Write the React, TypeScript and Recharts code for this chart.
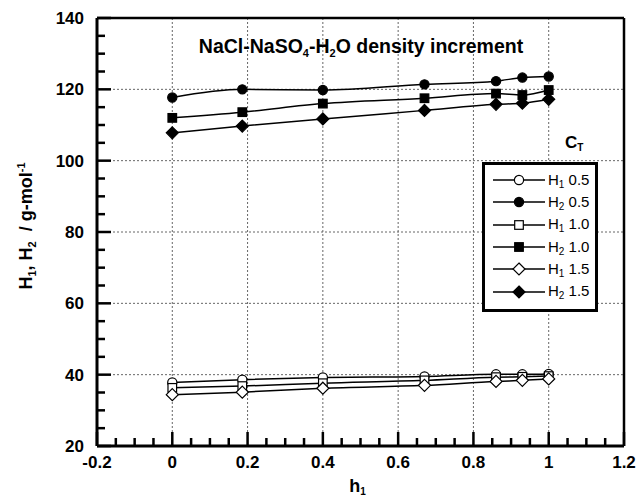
import React from 'react';
import { ComposedChart, Line, XAxis, YAxis, CartesianGrid } from 'recharts';

// h1 values (mole fraction) shared by all series
const hValues = [0, 0.186, 0.4, 0.67, 0.86, 0.93, 1.0];

// partial molar density increments, g/mol
const h1c05 = [37.8, 38.6, 39.2, 39.5, 40.1, 40.1, 40.2];
const h2c05 = [117.7, 120.0, 119.8, 121.4, 122.3, 123.3, 123.6];
const h1c10 = [36.3, 36.8, 37.6, 38.4, 39.3, 39.4, 39.6];
const h2c10 = [112.0, 113.6, 116.0, 117.5, 118.8, 118.4, 119.8];
const h1c15 = [34.4, 35.1, 36.2, 37.0, 38.1, 38.4, 38.8];
const h2c15 = [107.8, 109.7, 111.7, 114.1, 115.8, 116.1, 117.2];

const xMajor = [-0.2, 0, 0.2, 0.4, 0.6, 0.8, 1, 1.2];
const yMajor = [20, 40, 60, 80, 100, 120, 140];
const xDomain = [-0.2, 1.2];
const yDomain = [20, 140];

const W = 638;
const H = 498;
const FONT = '"Liberation Sans", Arial, sans-serif';

// minor ticks every quarter of a major step
const withMinor = (major: number[]) => {
  const out: number[] = [];
  for (let i = 0; i < major.length - 1; i++) {
    const step = (major[i + 1] - major[i]) / 4;
    for (let k = 0; k < 4; k++) out.push(+(major[i] + k * step).toFixed(4));
  }
  out.push(major[major.length - 1]);
  return out;
};
const xTicks = withMinor(xMajor);
const yTicks = withMinor(yMajor);

const isMajor = (v: number, list: number[]) => list.some((m) => Math.abs(m - v) < 1e-6);

type Shape = 'circle' | 'square' | 'diamond';

const series = [
  { key: 'h1c05', sub: '1', ct: '0.5', values: h1c05, shape: 'circle' as Shape, filled: false },
  { key: 'h2c05', sub: '2', ct: '0.5', values: h2c05, shape: 'circle' as Shape, filled: true },
  { key: 'h1c10', sub: '1', ct: '1.0', values: h1c10, shape: 'square' as Shape, filled: false },
  { key: 'h2c10', sub: '2', ct: '1.0', values: h2c10, shape: 'square' as Shape, filled: true },
  { key: 'h1c15', sub: '1', ct: '1.5', values: h1c15, shape: 'diamond' as Shape, filled: false },
  { key: 'h2c15', sub: '2', ct: '1.5', values: h2c15, shape: 'diamond' as Shape, filled: true },
];

const Marker = ({ cx, cy, shape, filled }: { cx: number; cy: number; shape: Shape; filled: boolean }) => {
  const fill = filled ? '#000' : '#fff';
  const common = { fill, stroke: '#000', strokeWidth: 1.2 };
  if (shape === 'square') return <rect x={cx - 4.3} y={cy - 4.3} width={8.6} height={8.6} {...common} />;
  if (shape === 'diamond')
    return <polygon points={`${cx},${cy - 6} ${cx + 6},${cy} ${cx},${cy + 6} ${cx - 6},${cy}`} {...common} />;
  return <circle cx={cx} cy={cy} r={4.6} {...common} />;
};

const tickText = { fontFamily: FONT, fontSize: 17, fontWeight: 700, fill: '#000' };
const tickLen = (major: boolean) => (major ? 14 : 8);

const BottomTick = (p: any) => {
  const v = p.payload.value;
  const major = isMajor(v, xMajor);
  return (
    <g>
      <line x1={p.x} x2={p.x} y1={p.y} y2={p.y - tickLen(major)} stroke="#000" strokeWidth={2.5} />
      {major && (
        <text x={p.x} y={p.y + 22} textAnchor="middle" style={tickText}>
          {String(+v.toFixed(2))}
        </text>
      )}
    </g>
  );
};

const LeftTick = (p: any) => {
  const v = p.payload.value;
  const major = isMajor(v, yMajor);
  return (
    <g>
      <line x1={p.x} x2={p.x + tickLen(major)} y1={p.y} y2={p.y} stroke="#000" strokeWidth={2.5} />
      {major && (
        <text x={p.x - 13} y={p.y + 6} textAnchor="end" style={tickText}>
          {v}
        </text>
      )}
    </g>
  );
};

const YTitle = (p: any) => {
  const vb = p.viewBox;
  const x = vb.x + 32;
  const y = vb.y + vb.height / 2 - 6;
  return (
    <text
      x={x}
      y={y}
      transform={`rotate(-90, ${x}, ${y})`}
      textAnchor="middle"
      style={{ fontFamily: FONT, fontSize: 18, fontWeight: 700, fill: '#000' }}
    >
      H<tspan fontSize={11} dy={4}>1</tspan>
      <tspan dy={-4}>, H</tspan>
      <tspan fontSize={11} dy={4}>2</tspan>
      <tspan dy={-4} xmlSpace="preserve">{'  / g-mol'}</tspan>
      <tspan fontSize={11} dy={-7}>-1</tspan>
    </text>
  );
};

const XTitle = (p: any) => {
  const vb = p.viewBox;
  const x = vb.x + vb.width / 2 - 3;
  return (
    <text x={x} y={492} textAnchor="middle" style={{ fontFamily: FONT, fontSize: 18, fontWeight: 700, fill: '#000' }}>
      h<tspan fontSize={10} dy={3}>1</tspan>
    </text>
  );
};

const LegendBox = () => (
  <div
    style={{
      position: 'absolute',
      left: 482,
      top: 162,
      border: '3px solid #000',
      background: '#fff',
      width: 110,
      height: 140,
      paddingTop: 4,
      boxSizing: 'content-box',
      fontFamily: FONT,
      fontSize: 15,
      color: '#000',
    }}
  >
    {series.map((s) => (
      <div key={s.key} style={{ display: 'flex', alignItems: 'center', height: 22.3 }}>
        <svg width={52} height={16} style={{ marginLeft: 8 }}>
          <line x1={0} x2={52} y1={8} y2={8} stroke="#000" strokeWidth={1.3} />
          <Marker cx={26} cy={8} shape={s.shape} filled={s.filled} />
        </svg>
        <span style={{ marginLeft: 3, whiteSpace: 'nowrap' }}>
          H<sub style={{ fontSize: 10, verticalAlign: -3 }}>{s.sub}</sub> {s.ct}
        </span>
      </div>
    ))}
  </div>
);

const App = () => {
  return (
    <div style={{ position: 'absolute', left: 0, top: 0, width: W, height: H, background: '#fff', overflow: 'hidden' }}>
      <ComposedChart width={W} height={H} margin={{ top: 0, right: 0, left: 0, bottom: 0 }}>
        <CartesianGrid
          verticalValues={xMajor.slice(1, -1)}
          horizontalValues={yMajor.slice(1, -1)}
          stroke="#666"
          strokeDasharray="2 2"
          strokeWidth={1}
        />
        <XAxis
          type="number"
          dataKey="x"
          domain={xDomain}
          ticks={xTicks}
          interval={0}
          height={52}
          tickSize={0}
          tickMargin={0}
          tick={BottomTick}
          axisLine={{ stroke: '#000', strokeWidth: 3 }}
          label={<XTitle />}
        />
        {/* top frame: plain axis, ticks turned inward with a negative size */}
        <XAxis
          xAxisId="top"
          orientation="top"
          type="number"
          dataKey="x"
          domain={xDomain}
          ticks={xTicks}
          interval={0}
          height={18}
          tick={false}
          tickSize={-10}
          stroke="#000"
          strokeWidth={2.5}
        />
        <YAxis
          type="number"
          dataKey="y"
          domain={yDomain}
          ticks={yTicks}
          interval={0}
          width={97}
          tickSize={0}
          tickMargin={0}
          tick={LeftTick}
          axisLine={{ stroke: '#000', strokeWidth: 3 }}
          label={<YTitle />}
        />
        <YAxis
          yAxisId="right"
          orientation="right"
          type="number"
          dataKey="y"
          domain={yDomain}
          ticks={yTicks}
          interval={0}
          width={14}
          tick={false}
          tickSize={-10}
          stroke="#000"
          strokeWidth={2.5}
        />
        {series.map((s, i) => (
          <Line
            key={s.key}
            // the last series sits on the top/right axes, which share the same domains
            xAxisId={i === series.length - 1 ? 'top' : 0}
            yAxisId={i === series.length - 1 ? 'right' : 0}
            data={hValues.map((x, j) => ({ x, y: s.values[j] }))}
            dataKey="y"
            type="monotone"
            stroke="#000"
            strokeWidth={1.5}
            isAnimationActive={false}
            dot={(d: any) => (
              <Marker key={`${s.key}-${d.index}`} cx={d.cx} cy={d.cy} shape={s.shape} filled={s.filled} />
            )}
            activeDot={false}
          />
        ))}
      </ComposedChart>
      <LegendBox />
      <div
        style={{
          position: 'absolute',
          left: 97,
          width: 528,
          top: 36,
          textAlign: 'center',
          fontFamily: FONT,
          fontSize: 19.5,
          fontWeight: 700,
          lineHeight: '20px',
          whiteSpace: 'nowrap',
        }}
      >
        NaCl-NaSO<sub style={{ fontSize: 11, verticalAlign: -4 }}>4</sub>-H
        <sub style={{ fontSize: 11, verticalAlign: -4 }}>2</sub>O density increment
      </div>
      <div
        style={{
          position: 'absolute',
          left: 565,
          top: 133,
          fontFamily: FONT,
          fontSize: 17,
          fontWeight: 700,
          lineHeight: '20px',
        }}
      >
        C<sub style={{ fontSize: 10, verticalAlign: -3 }}>T</sub>
      </div>
    </div>
  );
};

export default App;
